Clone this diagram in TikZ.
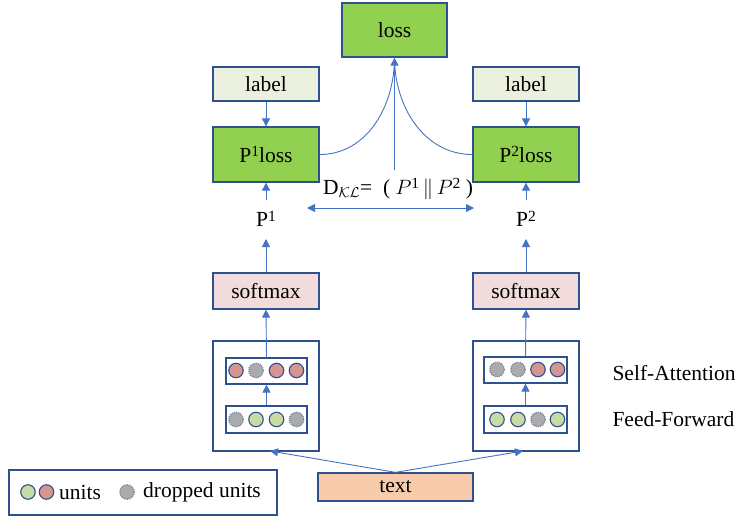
\documentclass[tikz,border=0pt]{standalone}
\usepackage{fontspec}
\setmainfont{Liberation Serif}
\usetikzlibrary{arrows.meta}
\definecolor{bord}{HTML}{2F528F}
\definecolor{lin}{HTML}{4472C4}
\definecolor{gfill}{HTML}{92D050}
\definecolor{lfill}{HTML}{EBF1DE}
\definecolor{sfill}{HTML}{F2DCDB}
\definecolor{tfill}{HTML}{F8CBAD}
\definecolor{ured}{HTML}{D6958F}
\definecolor{ugreen}{HTML}{C9DBA1}
\definecolor{ugray}{HTML}{ABABAB}
\definecolor{dgray}{HTML}{6F7F9F}
\newcommand\mysup[1]{\raisebox{0.55ex}{\fontsize{15.5}{16}\selectfont #1}}
\begin{document}
\begin{tikzpicture}[x=1pt,y=-1pt,
  font=\fontsize{21.5}{25}\selectfont,
  box/.style={draw=bord,line width=1.3pt,inner sep=0pt,align=center},
  conn/.style={draw=lin,line width=0.9pt},
  arr/.style={conn,-{Triangle[width=8pt,length=8pt]}},
  darr/.style={conn,{Triangle[width=8pt,length=8pt]}-{Triangle[width=8pt,length=8pt]}},
  unitr/.style={circle,draw=bord,line width=1.1pt,fill=ured,minimum size=14.5pt,inner sep=0pt},
  unitg/.style={circle,draw=bord,line width=1.1pt,fill=ugreen,minimum size=14.5pt,inner sep=0pt},
  unitd/.style={circle,draw=dgray,densely dotted,line width=1.1pt,fill=ugray,minimum size=14.5pt,inner sep=0pt}]
\useasboundingbox (0,0) rectangle (738,519);

% top
\node[box,fill=gfill,minimum width=105pt,minimum height=54pt] (loss) at (394.5,30) {loss};

% left column
\node[box,fill=lfill,minimum width=106pt,minimum height=34pt] (labL) at (266,84) {label};
\node[box,fill=gfill,minimum width=106pt,minimum height=55pt] (plL) at (266,154.5) {P\mysup{1}loss};
\node (pL) at (266,219) {P\mysup{1}};
\node[box,fill=sfill,minimum width=106pt,minimum height=36pt] (smL) at (266,291) {softmax};
\node[box,minimum width=106pt,minimum height=110pt] (encL) at (266,396) {};
\node[box,line width=1.2pt,minimum width=81pt,minimum height=26pt] (saL) at (266.5,371) {};
\node[box,line width=1.2pt,minimum width=81pt,minimum height=27pt] (ffL) at (266.5,419.5) {};
\node[unitr] (saL1) at (236,370.5) {};
\node[unitd] (saL2) at (256,370.5) {};
\node[unitr] (saL3) at (276.5,370.5) {};
\node[unitr] (saL4) at (296.5,370.5) {};
\node[unitd] (ffL1) at (236,419.5) {};
\node[unitg] (ffL2) at (256,419.5) {};
\node[unitg] (ffL3) at (276.5,419.5) {};
\node[unitd] (ffL4) at (296.5,419.5) {};

% right column
\node[box,fill=lfill,minimum width=106pt,minimum height=34pt] (labR) at (526,84) {label};
\node[box,fill=gfill,minimum width=106pt,minimum height=55pt] (plR) at (526,154.5) {P\mysup{2}loss};
\node (pR) at (526,219) {P\mysup{2}};
\node[box,fill=sfill,minimum width=106pt,minimum height=36pt] (smR) at (526,291) {softmax};
\node[box,minimum width=106pt,minimum height=110pt] (encR) at (526,396) {};
\node[box,line width=1.2pt,minimum width=83pt,minimum height=26pt] (saR) at (525.5,370) {};
\node[box,line width=1.2pt,minimum width=83pt,minimum height=27pt] (ffR) at (525.5,419.5) {};
\node[unitd] (saR1) at (497,369.5) {};
\node[unitd] (saR2) at (518,369.5) {};
\node[unitr] (saR3) at (538,369.5) {};
\node[unitr] (saR4) at (557.5,369.5) {};
\node[unitg] (ffR1) at (497,419.5) {};
\node[unitg] (ffR2) at (518,419.5) {};
\node[unitd] (ffR3) at (538,419.5) {};
\node[unitg] (ffR4) at (557.5,419.5) {};

% side labels
\node[anchor=west] (sa) at (609,373) {Self-Attention};
\node[anchor=west] (ff) at (609,419) {Feed-Forward};

% input text
\node[box,fill=tfill,minimum width=155pt,minimum height=28pt] (txt) at (395.5,487) {text};

% KL divergence
\node (kl) at (398,189) {D$_{\mathcal{K}\mathcal{L}}$=\ \ ( $P$\mysup{1}\,$\|$\,$P$\mysup{2} )};
\coordinate (klL) at (307,208);
\coordinate (klR) at (474,208);
\coordinate (vb) at (394.5,170);

% legend
\node[box,line width=1.2pt,minimum width=268pt,minimum height=45pt] (leg) at (143,492.5) {};
\node[unitg] (lg1) at (28,492) {};
\node[unitr] (lg2) at (46.5,492) {};
\node[anchor=west,inner sep=0pt] (lt1) at (59,492) {units};
\node[unitd] (lg3) at (127,492) {};
\node[anchor=west,inner sep=0pt] (lt2) at (143,492) {dropped units};

% connectors
\draw[arr] (labL) -- (plL);
\draw[arr] (labR) -- (plR);
\draw[arr] (pL.north |- 0,200) -- (plL.south);
\draw[arr] (pR.north |- 0,200) -- (plR.south);
\draw[arr] (smL.north) -- (266,239);
\draw[arr] (smR.north) -- (526,239);
\draw[arr] (saL.north) -- (smL.south);
\draw[arr] (saR.north) -- (smR.south);
\draw[arr] (ffL.north) -- (saL.south);
\draw[arr] (ffR.north) -- (saR.south);
\draw[arr] (txt.north) -- (270,451);
\draw[arr] (txt.north) -- (523,451);
\draw[darr] (klL) -- (klR);
\draw[arr] (vb) -- (loss.south);
\draw[conn] (plL.east) to[out=0,in=-90] (loss.south);
\draw[conn] (plR.west) to[out=180,in=-90] (loss.south);
\end{tikzpicture}
\end{document}
